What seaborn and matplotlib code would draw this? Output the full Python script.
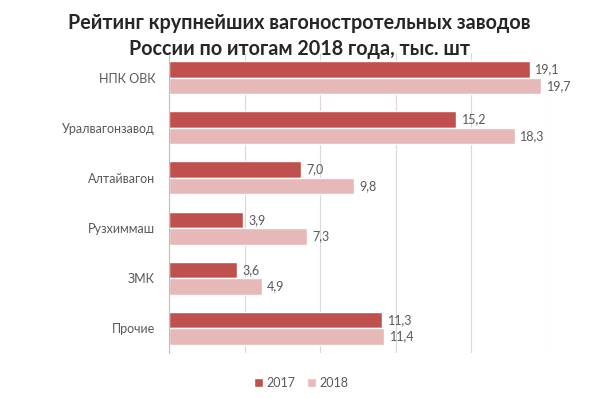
import matplotlib
matplotlib.use("Agg")
import matplotlib.pyplot as plt
import pandas as pd
import seaborn as sns

plants = ["НПК ОВК", "Уралвагонзавод", "Алтайвагон", "Рузхиммаш", "ЗМК", "Прочие"]
values_2017 = [19.1, 15.2, 7.0, 3.9, 3.6, 11.3]
values_2018 = [19.7, 18.3, 9.8, 7.3, 4.9, 11.4]
years = ["2017", "2018"]

df = pd.DataFrame({
    "plant": plants * 2,
    "value": values_2017 + values_2018,
    "year": [years[0]] * len(plants) + [years[1]] * len(plants),
})

sns.set_style("white")
plt.rcParams["font.family"] = ["Lato", "DejaVu Sans"]

fig, ax = plt.subplots(figsize=(5.99, 3.98), dpi=100)
fig.subplots_adjust(left=0.282, right=0.913, top=0.868, bottom=0.112)

sns.barplot(
    data=df, y="plant", x="value", hue="year", orient="h",
    palette={"2017": "#C0504D", "2018": "#E6B9B8"},
    width=0.66, ax=ax, saturation=1, legend=True,
)

for container in ax.containers:
    ax.bar_label(
        container,
        labels=[f"{v:.1f}".replace(".", ",") for v in container.datavalues],
        padding=4, fontsize=9, color="#595959",
    )

ax.set_xlim(0, 20)
ax.set_xticks([0, 4, 8, 12, 16, 20])
ax.set_xticklabels([])
ax.tick_params(axis="x", length=0)
ax.tick_params(axis="y", length=0, labelsize=9, labelcolor="#595959", pad=10)
ax.xaxis.grid(True, color="#D9D9D9", linewidth=0.8)
ax.set_axisbelow(True)
for side in ["top", "right", "bottom"]:
    ax.spines[side].set_visible(False)
ax.spines["left"].set_color("#BFBFBF")
ax.set_xlabel("")
ax.set_ylabel("")

ax.legend(
    loc="upper center", bbox_to_anchor=(0.35, -0.04), ncol=2, frameon=False,
    fontsize=9, labelcolor="#595959", handlelength=0.7, handleheight=0.7,
    handletextpad=0.3, columnspacing=0.9,
)

fig.suptitle(
    "Рейтинг крупнейших вагоностротельных заводов\nРоссии по итогам 2018 года, тыс. шт",
    fontsize=14.2, fontweight="bold", y=0.968, x=0.5, linespacing=1.4,
)

fig.savefig("out.png", dpi=100)
